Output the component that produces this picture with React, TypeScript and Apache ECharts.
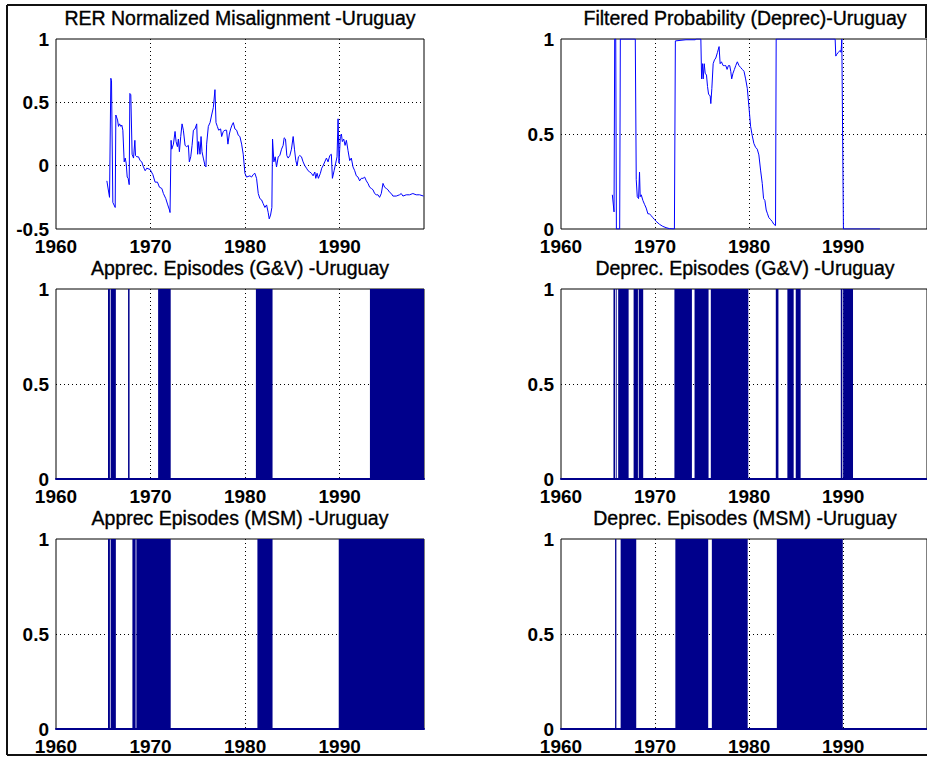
import { useEffect, useRef } from "react";
import * as echarts from "echarts";

// Time axis (decimal years), monthly data ending Dec 1998
const X_MIN = 1960;
const X_MAX = 1998.917;

const NAVY = "#00008c";
const LINE_BLUE = "#0000ff";
const FONT = "'Liberation Sans', Arial, Helvetica, sans-serif";

const panelTitles = [
  "RER Normalized Misalignment -Uruguay",
  "Filtered Probability (Deprec)-Uruguay",
  "Apprec. Episodes (G&V) -Uruguay",
  "Deprec. Episodes (G&V) -Uruguay",
  "Apprec Episodes (MSM) -Uruguay",
  "Deprec. Episodes (MSM) -Uruguay",
];

// Normalized real exchange rate misalignment [year, value]
const rerMisalignment: [number, number][] = [
  [1965.38, -0.12], [1965.66, -0.25], [1965.8, 0.69], [1965.87, 0.67], [1966.01, -0.29],
  [1966.26, -0.33], [1966.33, 0.4], [1966.51, 0.36], [1966.61, 0.31], [1966.72, 0.33],
  [1966.86, 0.31], [1966.96, 0.32], [1967.07, 0.28], [1967.21, 0.03], [1967.32, 0.06],
  [1967.42, 0.02], [1967.53, -0.09], [1967.63, -0.1], [1967.74, -0.15], [1967.81, 0.57],
  [1967.91, 0.56], [1968.05, 0.09], [1968.2, 0.06], [1968.34, 0.2], [1968.41, 0.08],
  [1968.55, 0.07], [1968.72, 0.07], [1968.9, 0.04], [1969.07, 0.03], [1969.25, -0.01],
  [1969.43, -0.04], [1969.6, -0.02], [1969.95, -0.03], [1970.24, -0.07], [1970.48, -0.13],
  [1970.73, -0.13], [1970.94, -0.17], [1971.19, -0.18], [1971.36, -0.22], [1971.61, -0.26],
  [1971.82, -0.31], [1972.0, -0.35], [1972.06, -0.37], [1972.17, 0.2], [1972.24, 0.13],
  [1972.42, 0.17], [1972.59, 0.27], [1972.7, 0.19], [1972.84, 0.15], [1972.94, 0.21],
  [1973.05, 0.11], [1973.19, 0.23], [1973.33, 0.33], [1973.47, 0.28], [1973.65, 0.16],
  [1973.82, 0.15], [1974.0, 0.16], [1974.1, 0.03], [1974.25, 0.07], [1974.39, 0.16],
  [1974.53, 0.28], [1974.7, 0.29], [1974.88, 0.33], [1974.98, 0.09], [1975.09, 0.19],
  [1975.23, 0.09], [1975.34, 0.23], [1975.44, 0.11], [1975.58, 0.06], [1975.76, 0.0],
  [1975.86, -0.01], [1975.93, 0.17], [1976.11, 0.31], [1976.29, 0.34], [1976.46, 0.4],
  [1976.64, 0.46], [1976.81, 0.6], [1976.92, 0.34], [1977.06, 0.31], [1977.2, 0.28],
  [1977.41, 0.29], [1977.52, 0.23], [1977.69, 0.27], [1977.87, 0.28], [1978.04, 0.28],
  [1978.18, 0.17], [1978.33, 0.25], [1978.47, 0.29], [1978.61, 0.32], [1978.75, 0.34],
  [1978.92, 0.29], [1979.1, 0.28], [1979.28, 0.24], [1979.45, 0.23], [1979.63, 0.17],
  [1979.8, 0.09], [1979.98, -0.06], [1980.15, -0.09], [1980.51, -0.08], [1980.68, -0.09],
  [1980.86, -0.07], [1981.03, -0.06], [1981.21, -0.1], [1981.39, -0.22], [1981.56, -0.26],
  [1981.74, -0.27], [1981.91, -0.3], [1982.09, -0.33], [1982.27, -0.31], [1982.44, -0.37],
  [1982.55, -0.42], [1982.69, -0.39], [1982.83, -0.33], [1982.9, 0.21], [1983.04, 0.03],
  [1983.18, 0.07], [1983.32, -0.01], [1983.5, 0.07], [1983.67, 0.08], [1983.85, 0.13],
  [1984.02, 0.16], [1984.13, 0.22], [1984.27, 0.21], [1984.41, 0.08], [1984.55, 0.06],
  [1984.73, 0.08], [1984.9, 0.13], [1985.08, 0.23], [1985.22, 0.13], [1985.36, 0.04],
  [1985.5, 0.0], [1985.64, 0.07], [1985.78, 0.08], [1985.96, 0.07], [1986.13, 0.03],
  [1986.31, 0.0], [1986.49, -0.02], [1986.66, -0.04], [1986.84, -0.05], [1987.01, -0.06],
  [1987.19, -0.08], [1987.37, -0.05], [1987.47, -0.1], [1987.61, -0.06], [1987.75, -0.1],
  [1987.96, -0.06], [1988.1, -0.02], [1988.25, 0.0], [1988.42, 0.03], [1988.6, 0.06],
  [1988.77, 0.03], [1988.95, 0.08], [1989.12, 0.09], [1989.23, -0.1], [1989.41, -0.04],
  [1989.58, 0.02], [1989.72, 0.07], [1989.83, 0.37], [1989.93, 0.02], [1990.07, 0.23],
  [1990.18, 0.25], [1990.28, 0.19], [1990.43, 0.21], [1990.57, 0.16], [1990.71, 0.2],
  [1990.88, 0.12], [1991.06, 0.04], [1991.23, 0.06], [1991.41, -0.01], [1991.59, -0.04],
  [1991.76, -0.08], [1991.94, -0.09], [1992.11, -0.12], [1992.29, -0.1], [1992.47, -0.1],
  [1992.64, -0.09], [1992.82, -0.12], [1992.99, -0.14], [1993.17, -0.17], [1993.35, -0.18],
  [1993.52, -0.19], [1993.7, -0.22], [1993.87, -0.23], [1994.05, -0.23], [1994.22, -0.25],
  [1994.4, -0.22], [1994.58, -0.14], [1994.75, -0.17], [1994.93, -0.18], [1995.1, -0.19],
  [1995.28, -0.21], [1995.46, -0.22], [1995.63, -0.24], [1995.98, -0.24], [1996.33, -0.23],
  [1996.51, -0.22], [1996.69, -0.24], [1997.04, -0.23], [1997.39, -0.23], [1997.74, -0.22],
  [1998.09, -0.23], [1998.45, -0.23], [1998.87, -0.24],
];

// Filtered probability of the depreciation regime [year, probability]
const deprecProbability: [number, number][] = [
  [1965.46, 0.18], [1965.64, 0.09], [1965.71, 1.0], [1965.82, 1.0], [1965.89, 0.0],
  [1966.24, 0.0], [1966.31, 1.0], [1967.9, 1.0], [1968.0, 0.26], [1968.11, 0.17],
  [1968.25, 0.16], [1968.35, 0.3], [1968.42, 0.17], [1968.53, 0.18], [1968.71, 0.15],
  [1968.88, 0.13], [1969.06, 0.11], [1969.24, 0.08], [1969.41, 0.08], [1969.59, 0.07],
  [1969.76, 0.06], [1969.94, 0.05], [1970.12, 0.04], [1970.47, 0.025], [1970.82, 0.014],
  [1971.17, 0.007], [1971.53, 0.002], [1972.06, 0.0], [1972.16, 0.99], [1973.29, 0.996],
  [1974.28, 0.996], [1974.35, 1.0], [1974.87, 1.0], [1974.95, 0.79], [1975.05, 0.87],
  [1975.12, 0.79], [1975.23, 0.87], [1975.33, 0.82], [1975.47, 0.81], [1975.58, 0.75],
  [1975.69, 0.71], [1975.76, 0.71], [1975.86, 0.7], [1975.93, 0.66], [1976.04, 0.74],
  [1976.18, 0.87], [1976.32, 0.89], [1976.46, 0.9], [1976.64, 0.93], [1976.81, 0.96],
  [1976.92, 0.87], [1977.06, 0.88], [1977.24, 0.86], [1977.38, 0.86], [1977.52, 0.86],
  [1977.66, 0.84], [1977.8, 0.86], [1977.94, 0.86], [1978.05, 0.83], [1978.15, 0.79],
  [1978.29, 0.82], [1978.44, 0.84], [1978.58, 0.86], [1978.75, 0.88], [1978.93, 0.86],
  [1979.1, 0.85], [1979.28, 0.84], [1979.46, 0.83], [1979.63, 0.79], [1979.81, 0.74],
  [1979.99, 0.64], [1980.16, 0.54], [1980.34, 0.49], [1980.51, 0.45], [1980.69, 0.43],
  [1980.87, 0.42], [1981.04, 0.39], [1981.22, 0.31], [1981.4, 0.24], [1981.54, 0.16],
  [1981.68, 0.15], [1981.82, 0.1], [1981.96, 0.08], [1982.1, 0.06], [1982.28, 0.05],
  [1982.45, 0.04], [1982.63, 0.025], [1982.81, 0.018], [1982.88, 1.0], [1989.15, 1.0],
  [1989.22, 0.91], [1989.33, 0.92], [1989.5, 0.93], [1989.68, 0.94], [1989.78, 0.93],
  [1989.86, 1.0], [1989.93, 1.0], [1990.03, 0.0], [1993.91, 0.0],
];

// Episode periods [start, end] in decimal years; value is 1 inside, 0 outside
const apprecEpisodesGV: [number, number][] = [
  [1965.5, 1965.7], [1965.78, 1966.33], [1967.62, 1967.78], [1970.8, 1972.13],
  [1981.14, 1982.9], [1993.2, 1998.917],
];
const deprecEpisodesGV: [number, number][] = [
  [1965.58, 1965.75], [1965.83, 1965.92], [1966.08, 1967.19], [1967.72, 1968.18],
  [1968.26, 1968.74], [1972.06, 1973.92], [1974.2, 1975.69], [1975.93, 1979.92],
  [1982.84, 1983.12], [1984.07, 1984.74], [1984.96, 1985.48], [1989.75, 1989.92],
  [1990.0, 1991.05],
];
const apprecEpisodesMSM: [number, number][] = [
  [1965.5, 1965.7], [1965.78, 1966.33], [1968.08, 1968.42], [1968.5, 1972.13],
  [1981.3, 1982.9], [1989.9, 1998.917],
];
const deprecEpisodesMSM: [number, number][] = [
  [1965.75, 1965.89], [1966.34, 1968.0], [1972.16, 1975.65], [1976.04, 1979.85],
  [1982.95, 1989.96],
];

// Turn episode periods into a 0/1 step function over the full axis range
function episodeSteps(episodes: [number, number][]): [number, number][] {
  const pts: [number, number][] = [[X_MIN, 0]];
  for (const [s, e] of episodes) {
    pts.push([s, 1]);
    pts.push([e, 0]);
  }
  if (pts[pts.length - 1][0] < X_MAX) pts.push([X_MAX, 0]);
  return pts;
}

const COL_LEFT = [56, 561];
const ROW_TOP = [39, 289, 539];
const PLOT_W = 368;
const PLOT_H = 190;

export default function App() {
  const ref = useRef<HTMLDivElement>(null);

  useEffect(() => {
    if (!ref.current) return;
    const chart = echarts.init(ref.current, null, { renderer: "svg" });

    const grids: any[] = [];
    const xAxes: any[] = [];
    const yAxes: any[] = [];
    const series: any[] = [];
    const texts: any[] = [];

    const panels = [
      { kind: "line", data: rerMisalignment, yMin: -0.5 },
      { kind: "line", data: deprecProbability, yMin: 0 },
      { kind: "bar", data: episodeSteps(apprecEpisodesGV), yMin: 0 },
      { kind: "bar", data: episodeSteps(deprecEpisodesGV), yMin: 0 },
      { kind: "bar", data: episodeSteps(apprecEpisodesMSM), yMin: 0 },
      { kind: "bar", data: episodeSteps(deprecEpisodesMSM), yMin: 0 },
    ];

    const dotted = { color: "#000", width: 1, type: [1, 3] };
    const tickFont = {
      fontFamily: FONT,
      fontSize: 19,
      fontWeight: "bold",
      color: "#000",
      lineHeight: 14,
    };

    panels.forEach((p, i) => {
      const col = i % 2;
      const row = Math.floor(i / 2);
      const left = COL_LEFT[col];
      const top = ROW_TOP[row];
      const isBar = p.kind === "bar";

      grids.push({
        left,
        top,
        width: PLOT_W,
        height: PLOT_H,
        show: true,
        backgroundColor: "#fff",
        borderColor: "#000",
        borderWidth: 1,
        containLabel: false,
      });

      xAxes.push({
        type: "value",
        gridIndex: i,
        min: X_MIN,
        max: X_MAX,
        interval: 10,
        axisLine: {
          show: isBar,
          onZero: false,
          lineStyle: { color: NAVY, width: 2 },
        },
        axisTick: { show: false },
        axisLabel: {
          ...tickFont,
          margin: 10,
          showMaxLabel: false,
          formatter: (v: number) => (Math.abs(v % 10) < 1e-6 ? String(v) : ""),
        },
        splitLine: {
          show: true,
          showMinLine: false,
          showMaxLine: false,
          lineStyle: dotted,
        },
      });

      yAxes.push({
        type: "value",
        gridIndex: i,
        min: p.yMin,
        max: 1,
        interval: 0.5,
        axisLine: { show: false },
        axisTick: { show: false },
        axisLabel: {
          ...tickFont,
          margin: 7,
          formatter: (v: number) => String(v),
        },
        splitLine: {
          show: true,
          showMinLine: false,
          showMaxLine: false,
          lineStyle: dotted,
        },
      });

      if (isBar) {
        series.push({
          type: "line",
          xAxisIndex: i,
          yAxisIndex: i,
          data: p.data,
          step: "end",
          symbol: "none",
          silent: true,
          lineStyle: { width: 0, opacity: 0 },
          areaStyle: { color: NAVY, opacity: 1 },
          z: 2,
        });
      } else {
        series.push({
          type: "line",
          xAxisIndex: i,
          yAxisIndex: i,
          data: p.data,
          symbol: "none",
          silent: true,
          lineStyle: { color: LINE_BLUE, width: 1 },
          z: 3,
        });
      }

      texts.push({
        type: "text",
        x: left + PLOT_W / 2,
        y: top - 21,
        style: {
          text: panelTitles[i],
          font: `normal 19.5px ${FONT}`,
          fill: "#000",
          stroke: "#000",
          lineWidth: 0.35,
          textAlign: "center",
          textVerticalAlign: "middle",
        },
        z: 10,
      });
    });

    // Figure frame
    const frame = { stroke: "#111", lineWidth: 2 };
    const frameLines = [
      { type: "line", shape: { x1: 7, y1: 5, x2: 927, y2: 5 }, style: frame },
      { type: "line", shape: { x1: 7, y1: 5, x2: 7, y2: 755 }, style: frame },
      { type: "line", shape: { x1: 7, y1: 755, x2: 927, y2: 755 }, style: frame },
      { type: "line", shape: { x1: 926, y1: 5, x2: 926, y2: 38 }, style: frame },
    ];

    chart.setOption({
      animation: false,
      backgroundColor: "#fff",
      grid: grids,
      xAxis: xAxes,
      yAxis: yAxes,
      series,
      graphic: [...texts, ...frameLines],
    });

    return () => chart.dispose();
  }, []);

  return (
    <div
      ref={ref}
      style={{ position: "absolute", left: 0, top: 0, width: 927, height: 757 }}
    />
  );
}
